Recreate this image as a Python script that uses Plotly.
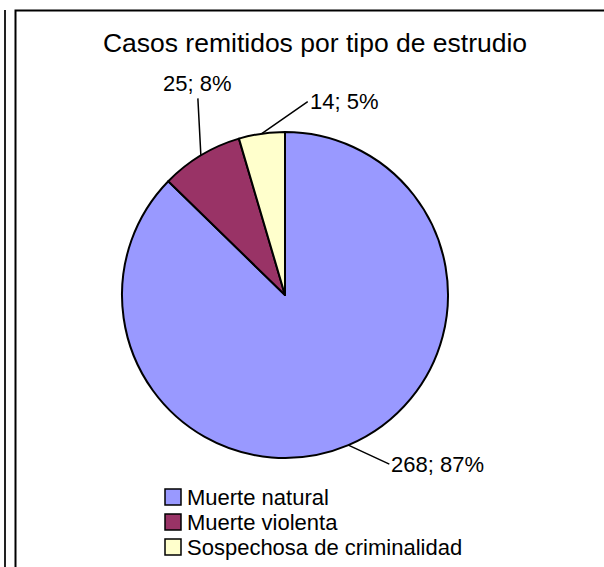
import math
import plotly.graph_objects as go

W, H = 604, 567

categories = ["Muerte natural", "Muerte violenta", "Sospechosa de criminalidad"]
casos = [268, 25, 14]
colores = ["#9999FF", "#993366", "#FFFFCC"]

# label placement, pixel offsets from the slice edge to the text (as in the original)
label_offsets = [(41, 19, "left", "middle"), (-3, -57, "center", "bottom"), (46, -32, "left", "middle")]

FONT = "Liberation Sans, Arial, sans-serif"

# pie geometry in pixels
cx, cy, r = 285, 295, 163

fig = go.Figure()
fig.add_trace(go.Pie(
    labels=categories,
    values=casos,
    sort=False,
    direction="clockwise",
    rotation=0,
    marker=dict(colors=colores, line=dict(color="black", width=2)),
    textinfo="none",
    hoverinfo="label+value+percent",
    showlegend=False,
    domain=dict(x=[(cx - r) / W, (cx + r) / W], y=[(H - cy - r) / H, (H - cy + r) / H]),
))

total = sum(casos)
annotations = []
acc = 0
for v, (ax, ay, xa, ya) in zip(casos, label_offsets):
    mid = (acc + v / 2) / total * 2 * math.pi
    acc += v
    px = cx + r * math.sin(mid)
    py = cy - r * math.cos(mid)
    annotations.append(dict(
        x=px / W, y=1 - py / H, xref="paper", yref="paper",
        text=f"{v}; {round(100 * v / total)}%",
        showarrow=True, arrowhead=0, arrowwidth=1.5, arrowcolor="black",
        ax=ax, ay=ay, xanchor=xa, yanchor=ya,
        font=dict(family=FONT, size=22, color="black"),
    ))

shapes = [
    dict(type="line", xref="paper", yref="paper", x0=5 / W, x1=5 / W, y0=-0.05, y1=1 - 10 / H,
         line=dict(color="#222222", width=2)),
    dict(type="rect", xref="paper", yref="paper", x0=15.5 / W, x1=1.1, y0=-0.1, y1=1 - 10.5 / H,
         line=dict(color="black", width=2)),
]

# legend drawn by hand: square swatch + text, one row per category
leg_x, leg_y0, leg_step, sw = 165, 497, 25, 16
for i, (name, col) in enumerate(zip(categories, colores)):
    yc = leg_y0 + i * leg_step
    shapes.append(dict(type="rect", xref="paper", yref="paper",
                       x0=leg_x / W, x1=(leg_x + sw) / W,
                       y0=1 - (yc + sw / 2) / H, y1=1 - (yc - sw / 2) / H,
                       fillcolor=col, line=dict(color="black", width=1.5)))
    annotations.append(dict(x=(leg_x + sw + 4) / W, y=1 - yc / H, xref="paper", yref="paper",
                            text=name, showarrow=False, xanchor="left", yanchor="middle",
                            font=dict(family=FONT, size=22, color="black")))

fig.update_layout(
    width=W, height=H,
    margin=dict(l=0, r=0, t=0, b=0),
    paper_bgcolor="white",
    plot_bgcolor="white",
    font=dict(family=FONT, size=22, color="black"),
    title=dict(text="Casos remitidos por tipo de estrudio", x=315 / W, y=1 - 43 / H,
               xanchor="center", yanchor="middle", font=dict(family=FONT, size=26.5, color="black")),
    showlegend=False,
    annotations=annotations,
    shapes=shapes,
)

fig.write_html("out.html", config={"displayModeBar": False},
               post_script="document.body.style.margin='0';")
